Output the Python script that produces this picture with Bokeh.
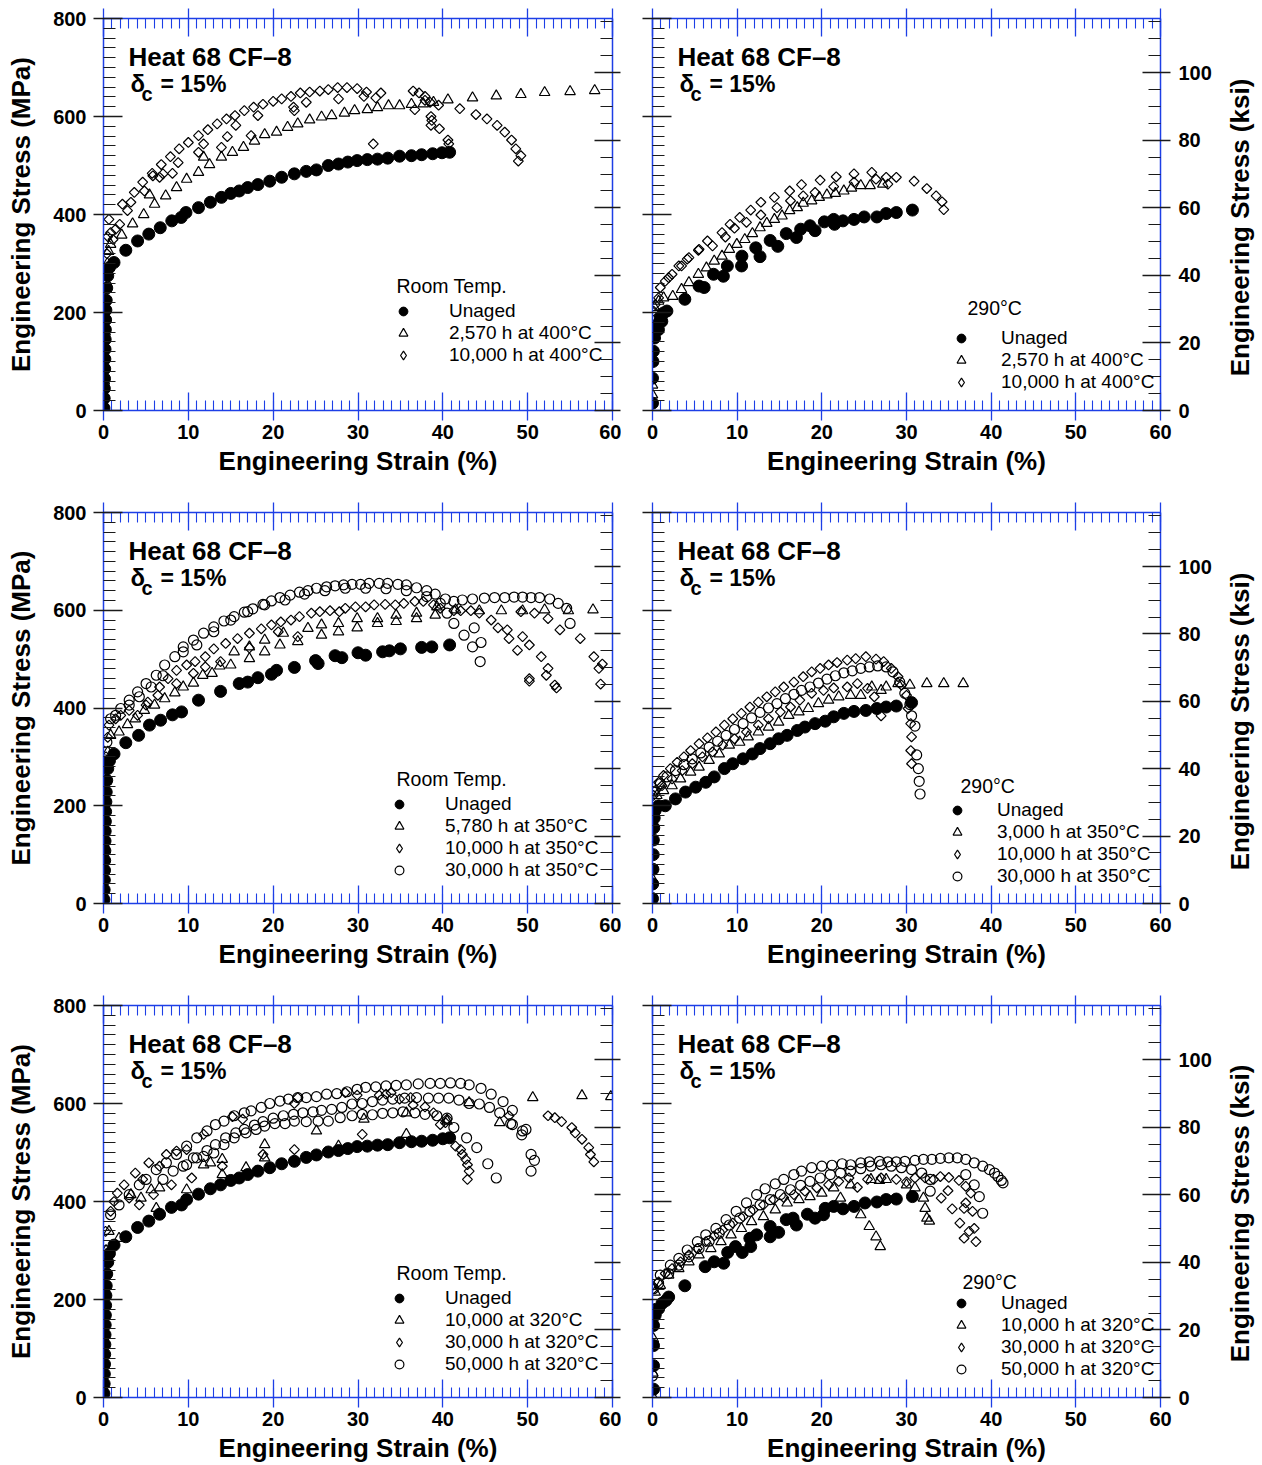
import math

from bokeh.embed import file_html
from bokeh.layouts import column, row
from bokeh.models import (CustomJSTickFormatter, FixedTicker, Label, Legend,
                          LegendItem, LinearAxis, Range1d)
from bokeh.plotting import figure
from bokeh.resources import INLINE

# ---------------------------------------------------------------------------
# Engineering stress-strain data, Heat 68 CF-8 (strain %, stress MPa)
# ---------------------------------------------------------------------------

# Room temperature tests, material aged at 400 C
rt400_unaged = [
    (0.05, 5), (0.08, 25), (0.10, 45), (0.12, 65), (0.14, 85), (0.16, 105), (0.18, 125),
    (0.20, 145), (0.22, 165), (0.25, 185), (0.28, 205), (0.32, 225), (0.38, 250), (0.50, 275),
    (0.70, 292), (1.24, 302), (2.63, 327), (4.02, 346), (5.34, 360), (6.69, 373), (8.05, 387),
    (9.16, 394), (9.72, 404), (11.2, 414), (12.6, 425), (13.9, 435), (15.0, 443), (16.0, 448),
    (17.0, 455), (18.2, 461), (19.6, 468), (21.0, 476), (22.5, 483), (23.9, 488), (25.1, 491),
    (26.5, 500), (27.7, 503), (28.8, 507), (29.9, 510), (31.1, 512), (32.3, 513), (33.5, 515),
    (34.9, 519), (36.3, 520), (37.5, 522), (38.8, 524), (39.9, 526), (40.8, 527)]
rt400_2570h = [
    (0.10, 60), (0.20, 160), (0.30, 250), (0.45, 300), (0.60, 325), (0.84, 339), (2.15, 358),
    (3.43, 381), (4.74, 400), (5.42, 440), (6.02, 421), (7.33, 438), (8.61, 455), (9.80, 472),
    (11.2, 486), (11.8, 517), (12.5, 502), (13.9, 517), (15.2, 527), (16.5, 537), (17.8, 550),
    (19.0, 563), (20.4, 568), (21.7, 578), (22.9, 585), (24.3, 593), (25.7, 599), (26.9, 602),
    (28.4, 607), (29.6, 612), (31.1, 614), (32.3, 618), (33.6, 622), (34.9, 622), (36.3, 625),
    (37.7, 626), (38.9, 629), (40.6, 634), (43.5, 638), (46.3, 642), (49.2, 645), (52.0, 649),
    (55.0, 651), (57.9, 653)]
rt400_10000h = [
    (0.0, 0), (0.1, 80), (0.2, 170), (0.3, 260), (0.4, 320), (0.5, 355), (0.64, 390),
    (0.84, 363), (1.12, 349), (1.43, 370), (1.91, 380), (2.23, 421), (2.83, 408), (3.23, 425),
    (3.63, 445), (4.62, 466), (4.82, 448), (5.74, 484), (5.82, 479), (6.61, 476), (6.81, 502),
    (7.01, 483), (7.89, 518), (8.13, 484), (8.80, 506), (8.92, 534), (10.0, 547), (11.2, 561),
    (11.2, 527), (11.8, 544), (12.3, 573), (13.4, 585), (13.9, 537), (14.6, 559), (14.5, 595),
    (15.5, 602), (15.6, 582), (16.6, 612), (17.4, 561), (17.7, 619), (18.2, 602), (18.8, 625),
    (20.0, 631), (21.0, 636), (22.1, 641), (22.4, 619), (22.5, 612), (23.2, 648), (23.9, 629),
    (24.3, 650), (25.5, 652), (26.5, 655), (27.6, 659), (27.7, 636), (28.7, 659), (29.9, 657),
    (30.7, 641), (31.0, 650), (32.1, 638), (32.7, 648), (31.8, 544), (36.5, 652), (36.7, 614),
    (37.2, 648), (37.9, 641), (37.9, 633), (38.5, 629), (38.6, 600), (38.7, 592), (38.6, 582),
    (39.6, 575), (40.6, 552), (40.7, 544), (39.5, 623), (42.0, 616), (43.9, 604), (45.2, 595),
    (46.4, 582), (47.3, 568), (48.1, 552), (48.6, 534), (49.2, 520), (48.9, 509)]

# 290 C tests, material aged at 400 C
t290_400_unaged = [
    (0.0, 15), (0.0, 66), (0.05, 100), (0.10, 121), (0.24, 148), (0.52, 175), (0.70, 165),
    (0.92, 189), (1.10, 182), (1.30, 199), (1.70, 203), (3.82, 227), (5.50, 254), (6.10, 251),
    (7.21, 278), (8.37, 274), (8.84, 295), (10.56, 315), (10.52, 295), (12.2, 332), (12.7, 314),
    (13.9, 347), (14.8, 335), (15.8, 361), (17.0, 353), (17.5, 370), (18.6, 377), (19.2, 367),
    (20.3, 385), (21.4, 390), (21.5, 380), (22.5, 387), (23.8, 390), (25.0, 395), (26.5, 395),
    (27.6, 402), (28.8, 404), (30.7, 409)]
t290_400_2570h = [
    (0.0, 32), (0.0, 52), (0.0, 100), (0.10, 150), (0.24, 210), (0.72, 223), (1.31, 230),
    (2.39, 233), (3.43, 247), (4.30, 261), (5.42, 278), (6.37, 291), (7.29, 305), (8.21, 315),
    (9.08, 329), (9.96, 339), (10.9, 349), (11.8, 361), (12.7, 373), (13.5, 382), (14.4, 390),
    (15.3, 397), (16.2, 408), (17.1, 414), (17.8, 423), (18.8, 428), (19.7, 435), (20.6, 440),
    (21.6, 443), (22.6, 448), (23.5, 454), (24.6, 459), (25.7, 459), (27.2, 462)]
t290_400_10000h = [
    (0.0, 120), (0.05, 170), (0.12, 203), (0.32, 216), (0.72, 230), (0.92, 251), (1.51, 264),
    (1.91, 271), (2.31, 278), (3.11, 295), (3.43, 295), (4.10, 309), (4.30, 312), (5.42, 327),
    (5.50, 329), (6.49, 346), (7.09, 336), (8.21, 363), (8.61, 354), (9.16, 380), (9.68, 372),
    (10.3, 394), (11.1, 384), (11.6, 409), (12.8, 425), (12.8, 399), (14.4, 435), (14.7, 414),
    (16.2, 448), (16.3, 428), (17.6, 461), (17.8, 438), (19.2, 445), (19.8, 470), (21.4, 457),
    (21.7, 477), (23.8, 483), (23.8, 466), (25.9, 486), (26.4, 472), (27.6, 476), (27.8, 462),
    (28.8, 476), (30.9, 468), (32.4, 453), (33.5, 438), (34.2, 426), (34.4, 410)]

# Room temperature tests, material aged at 350 C
rt350_unaged = [
    (0.05, 8), (0.08, 28), (0.10, 48), (0.12, 68), (0.14, 88), (0.16, 108), (0.18, 128),
    (0.20, 148), (0.22, 168), (0.25, 188), (0.28, 208), (0.32, 228), (0.38, 252), (0.50, 276),
    (0.70, 292), (1.24, 306), (2.63, 329), (4.14, 344), (5.42, 365), (6.73, 375), (8.13, 386),
    (9.20, 392), (11.2, 416), (13.8, 434), (16.0, 450), (17.0, 453), (18.2, 462), (19.8, 469),
    (20.4, 477), (22.5, 483), (25.0, 497), (25.3, 491), (27.3, 507), (28.1, 503), (30.0, 513),
    (30.9, 508), (32.9, 515), (33.7, 517), (35.0, 521), (37.5, 524), (38.7, 525), (40.8, 529)]
rt350_5780h = [
    (0.10, 120), (0.30, 250), (0.50, 310), (0.84, 344), (1.83, 351), (2.83, 366), (3.75, 378),
    (4.82, 395), (6.02, 406), (7.21, 419), (8.41, 431), (9.40, 443), (10.6, 451), (11.7, 467),
    (12.8, 471), (13.7, 486), (15.0, 488), (15.4, 515), (17.2, 501), (17.2, 525), (19.0, 515),
    (19.0, 539), (20.8, 529), (21.2, 553), (22.9, 536), (24.1, 563), (25.7, 549), (25.7, 570),
    (27.7, 556), (27.7, 573), (29.9, 564), (29.9, 583), (32.3, 573), (32.3, 583), (34.5, 577),
    (34.5, 590), (36.9, 583), (36.9, 594), (39.1, 590), (39.3, 607), (41.5, 601), (44.3, 599),
    (46.9, 599), (49.4, 599), (52.0, 601), (54.8, 599), (57.7, 601)]
rt350_10000h = [
    (0.0, 0), (0.2, 200), (0.3, 300), (0.5, 340), (0.64, 365), (1.43, 378), (2.03, 385),
    (3.03, 395), (4.02, 385), (5.02, 406), (5.22, 412), (6.41, 426), (6.61, 443), (7.61, 460),
    (8.61, 477), (8.61, 450), (9.80, 488), (10.6, 471), (10.8, 495), (12.0, 505), (12.0, 484),
    (13.0, 521), (13.8, 495), (14.4, 532), (15.8, 542), (17.2, 553), (17.2, 523), (18.6, 562),
    (19.8, 570), (20.6, 556), (20.9, 576), (22.1, 580), (22.9, 546), (23.1, 587), (24.5, 594),
    (25.5, 597), (26.7, 599), (27.8, 597), (28.5, 604), (29.7, 607), (30.9, 607), (31.9, 611),
    (33.2, 612), (34.4, 611), (35.4, 614), (36.7, 618), (37.7, 618), (38.9, 611), (39.7, 604),
    (41.3, 599), (42.1, 599), (43.3, 599), (44.3, 594), (45.7, 580), (46.5, 564), (47.6, 560),
    (47.8, 542), (48.8, 518), (49.4, 546), (50.2, 529), (50.2, 460), (50.2, 455), (51.6, 505),
    (52.4, 481), (52.2, 467), (53.2, 447), (53.4, 441), (50.8, 594), (49.2, 597), (52.4, 583),
    (53.8, 560), (56.2, 542), (57.8, 505), (58.4, 481), (58.6, 449), (58.8, 490)]
rt350_30000h = [
    (0.2, 250), (0.4, 330), (0.84, 378), (1.43, 385), (2.03, 399), (3.03, 416), (4.02, 433),
    (5.02, 450), (6.22, 467), (7.21, 488), (8.41, 505), (9.40, 525), (10.6, 539), (11.8, 553),
    (13.0, 566), (14.2, 578), (15.4, 587), (16.6, 596), (17.6, 603), (18.8, 612), (19.8, 619),
    (20.8, 626), (22.0, 631), (23.1, 637), (24.1, 640), (25.1, 645), (26.3, 648), (27.3, 650),
    (28.3, 652), (29.3, 653), (30.3, 653), (31.3, 655), (32.5, 655), (33.5, 655), (34.7, 653),
    (35.7, 652), (36.9, 646), (38.1, 640), (39.1, 633), (40.3, 623), (41.3, 618), (42.3, 621),
    (43.5, 623), (44.9, 625), (46.1, 626), (47.3, 626), (48.4, 627), (49.4, 627), (50.4, 626),
    (51.4, 626), (52.6, 623), (53.6, 614), (54.6, 604), (55.0, 573), (41.3, 573), (42.5, 549),
    (43.7, 564), (43.5, 525), (44.5, 534), (44.4, 495), (3.03, 406), (4.22, 423), (5.62, 443),
    (7.01, 466), (9.40, 515), (11.0, 529), (13.0, 556), (15.0, 580), (17.0, 597), (19.0, 611),
    (21.4, 621), (23.7, 633), (26.1, 640), (28.5, 645), (30.9, 645), (33.3, 644), (35.7, 640),
    (38.1, 628), (39.7, 614), (40.5, 594)]

# 290 C tests, material aged at 350 C
t290_350_unaged = [
    (0.0, 10), (0.02, 40), (0.05, 70), (0.08, 100), (0.10, 130), (0.15, 155), (0.20, 175),
    (0.30, 190), (0.72, 200), (1.51, 200), (2.71, 214), (3.90, 228), (5.10, 238), (6.29, 248),
    (7.29, 259), (8.49, 276), (9.48, 286), (10.7, 296), (11.8, 306), (12.7, 317), (13.9, 327),
    (14.9, 337), (15.9, 344), (17.1, 354), (18.0, 361), (19.2, 368), (20.4, 373), (21.4, 382),
    (22.6, 389), (23.8, 393), (25.2, 395), (26.5, 399), (27.6, 402), (28.8, 404), (30.6, 411)]
t290_350_3000h = [
    (0.0, 50), (0.1, 130), (0.2, 190), (0.52, 221), (1.31, 231), (2.31, 241), (3.31, 255),
    (4.50, 269), (5.50, 279), (6.69, 293), (7.89, 306), (9.08, 324), (10.3, 330), (11.3, 341),
    (12.5, 351), (13.7, 361), (14.9, 371), (16.1, 385), (17.3, 392), (18.4, 399), (19.6, 409),
    (20.8, 416), (22.0, 423), (23.4, 426), (24.6, 426), (25.9, 443), (27.0, 436), (27.6, 443),
    (29.0, 450), (30.4, 447), (32.4, 450), (34.4, 450), (36.7, 450)]
t290_350_10000h = [
    (0.0, 0), (0.05, 160), (0.12, 221), (0.72, 248), (1.31, 262), (2.11, 276), (2.91, 289),
    (3.71, 300), (4.50, 313), (5.50, 327), (6.49, 339), (7.49, 351), (8.49, 365), (9.48, 378),
    (10.5, 389), (11.5, 402), (12.5, 412), (13.5, 423), (14.5, 433), (15.5, 443), (16.7, 453),
    (17.8, 464), (18.8, 474), (19.8, 481), (20.8, 488), (21.8, 493), (23.0, 498), (24.0, 501),
    (25.2, 505), (26.4, 500), (27.3, 495), (28.2, 481), (29.0, 464), (29.4, 447), (30.0, 426),
    (30.2, 399), (30.5, 368), (30.6, 341), (30.5, 313), (30.6, 286), (0.32, 231), (1.12, 241),
    (2.31, 255), (3.51, 272), (4.70, 286), (5.90, 300), (7.09, 310), (8.29, 324), (9.68, 337),
    (11.1, 351), (12.5, 365), (13.7, 378), (15.1, 392), (16.3, 402), (17.4, 416), (18.8, 430),
    (20.2, 436), (21.4, 441), (23.0, 443), (24.2, 450), (25.4, 440), (26.2, 423), (27.0, 384)]
t290_350_30000h = [
    (0.05, 180), (0.12, 228), (0.92, 245), (1.71, 259), (2.71, 272), (3.71, 284), (4.70, 296),
    (5.70, 308), (6.69, 320), (7.69, 332), (8.69, 344), (9.68, 356), (10.7, 368), (11.7, 380),
    (12.7, 391), (13.7, 400), (14.7, 409), (15.7, 419), (16.7, 428), (17.6, 436), (18.6, 443),
    (19.6, 451), (20.6, 459), (21.6, 466), (22.6, 472), (23.6, 476), (24.6, 481), (25.6, 484),
    (26.6, 486), (27.6, 484), (28.4, 474), (29.2, 453), (29.8, 430), (30.4, 407), (30.6, 384),
    (31.0, 363), (31.2, 304), (31.4, 276), (31.5, 250), (31.6, 224)]

# Room temperature tests, material aged at 320 C
rt320_unaged = [
    (0.05, 8), (0.08, 28), (0.10, 48), (0.12, 68), (0.14, 88), (0.16, 108), (0.18, 128),
    (0.20, 148), (0.22, 168), (0.25, 188), (0.28, 208), (0.32, 228), (0.38, 252), (0.50, 276),
    (0.70, 294), (1.24, 311), (2.63, 328), (4.02, 347), (5.34, 360), (6.61, 374), (8.01, 388),
    (9.20, 393), (9.80, 404), (11.2, 415), (12.6, 426), (13.8, 434), (15.0, 443), (16.0, 448),
    (17.0, 455), (18.2, 462), (19.6, 469), (21.0, 477), (22.5, 482), (23.9, 490), (25.1, 495),
    (26.5, 501), (27.7, 504), (28.8, 508), (29.9, 512), (31.1, 513), (32.3, 515), (33.5, 516),
    (34.9, 520), (36.3, 522), (37.5, 523), (38.8, 525), (40.0, 528), (40.8, 530)]
rt320_10000h = [
    (0.0, 0), (0.3, 300), (0.64, 339), (1.83, 325), (3.23, 414), (4.42, 407), (5.62, 424),
    (6.22, 386), (6.61, 428), (9.80, 424), (11.8, 475), (12.6, 479), (14.0, 486), (14.0, 455),
    (16.8, 469), (19.0, 516), (19.0, 489), (25.1, 544), (27.7, 513), (30.7, 568), (35.7, 537),
    (35.7, 581), (40.5, 564), (43.1, 602), (46.7, 561), (50.6, 612), (56.4, 616), (59.8, 614)]
rt320_30000h = [
    (0.1, 200), (0.24, 339), (0.84, 380), (1.24, 400), (1.63, 417), (2.43, 434), (3.03, 407),
    (3.75, 458), (4.22, 393), (4.62, 445), (5.34, 479), (5.90, 414), (6.61, 472), (7.41, 496),
    (8.01, 434), (8.61, 503), (9.80, 506), (10.4, 448), (11.8, 537), (14.0, 472), (15.2, 573),
    (16.4, 568), (18.8, 496), (22.5, 506), (22.5, 600), (22.9, 612), (28.5, 622), (29.9, 617),
    (30.5, 537), (32.5, 617), (33.3, 619), (33.9, 622), (34.9, 609), (36.2, 612), (36.5, 597),
    (37.9, 593), (38.9, 581), (39.7, 557), (40.3, 561), (40.5, 568), (41.5, 513), (42.1, 506),
    (42.3, 496), (42.7, 486), (42.9, 475), (43.1, 462), (42.9, 445), (47.8, 575), (52.4, 575),
    (53.2, 571), (54.0, 563), (55.2, 551), (55.6, 540), (56.4, 527), (57.2, 510), (57.4, 496),
    (57.8, 481)]
rt320_50000h = [
    (0.3, 300), (0.84, 373), (1.83, 393), (3.03, 414), (4.22, 434), (5.02, 445), (6.22, 465),
    (7.41, 479), (8.61, 496), (9.80, 513), (11.0, 530), (12.2, 544), (13.2, 557), (14.2, 564),
    (15.4, 575), (16.6, 581), (17.4, 585), (18.6, 592), (19.6, 600), (20.8, 605), (21.8, 609),
    (22.9, 612), (23.9, 612), (25.1, 614), (26.3, 619), (27.5, 620), (28.7, 624), (29.9, 629),
    (30.9, 633), (32.1, 634), (33.3, 636), (34.5, 637), (35.7, 638), (37.1, 640), (38.5, 641),
    (39.7, 641), (40.9, 642), (42.1, 641), (43.1, 638), (44.5, 631), (45.7, 619), (47.1, 604),
    (48.2, 586), (48.0, 559), (49.3, 536), (49.8, 547), (50.4, 496), (50.8, 484), (50.4, 462),
    (9.80, 475), (11.0, 489), (12.2, 504), (13.2, 516), (14.4, 530), (15.6, 540), (16.6, 547),
    (17.8, 556), (18.8, 563), (20.0, 570), (21.2, 575), (22.4, 578), (23.5, 581), (24.7, 583),
    (25.7, 586), (26.9, 588), (28.1, 592), (29.3, 599), (30.5, 600), (31.7, 604), (32.9, 607),
    (34.1, 609), (35.5, 611), (36.9, 612), (38.3, 611), (39.5, 611), (40.7, 611), (41.9, 607),
    (43.1, 600), (44.3, 599), (45.5, 592), (46.7, 581), (48.2, 557), (49.4, 544), (7.01, 445),
    (8.21, 462), (9.40, 472), (10.6, 489), (11.8, 492), (13.0, 499), (14.2, 516), (15.4, 530),
    (16.8, 540), (18.0, 547), (19.0, 554), (20.2, 559), (21.4, 559), (22.5, 564), (23.9, 563),
    (25.3, 564), (26.5, 564), (27.9, 571), (29.3, 575), (30.5, 578), (31.7, 577), (32.9, 580),
    (34.1, 581), (35.3, 583), (36.7, 581), (37.9, 578), (39.3, 575), (40.5, 570), (41.3, 551),
    (42.8, 530), (44.0, 510), (45.3, 477), (46.3, 448)]

# 290 C tests, material aged at 320 C
t290_320_unaged = [
    (0.12, 17), (0.12, 65), (0.12, 106), (0.12, 147), (0.32, 168), (0.72, 181), (1.12, 192),
    (1.59, 198), (1.91, 205), (3.82, 228), (6.22, 267), (7.29, 277), (8.41, 274), (8.88, 296),
    (9.80, 308), (10.6, 296), (11.5, 325), (11.6, 308), (12.3, 332), (13.9, 349), (13.9, 328),
    (14.9, 337), (15.8, 363), (16.6, 366), (17.0, 352), (18.3, 374), (19.2, 366), (20.2, 373),
    (20.4, 386), (21.4, 390), (22.5, 385), (23.8, 390), (25.1, 397), (26.5, 399), (27.6, 404),
    (28.8, 405), (30.7, 410)]
t290_320_10000h = [
    (0.0, 3), (0.05, 50), (0.10, 120), (0.20, 180), (0.32, 215), (0.92, 229), (1.91, 250),
    (3.11, 263), (4.30, 277), (5.50, 291), (6.89, 304), (8.09, 318), (9.28, 332), (10.5, 345),
    (11.7, 359), (13.1, 369), (14.5, 383), (15.9, 397), (17.3, 404), (18.6, 410), (20.0, 417),
    (21.4, 428), (22.2, 407), (23.4, 434), (24.6, 373), (25.6, 349), (25.8, 445), (26.4, 328),
    (26.8, 443), (26.9, 308), (27.6, 445), (30.0, 434), (31.0, 428), (32.0, 407), (32.2, 386),
    (32.4, 366), (32.7, 360)]
t290_320_30000h = [
    (0.05, 150), (0.12, 222), (0.72, 236), (1.51, 253), (2.31, 263), (3.31, 277), (4.30, 291),
    (5.30, 304), (6.29, 318), (7.29, 330), (8.29, 342), (9.48, 356), (10.7, 369), (11.9, 383),
    (13.1, 393), (14.3, 404), (15.5, 408), (16.7, 414), (18.0, 421), (19.4, 428), (20.8, 434),
    (22.0, 441), (23.2, 448), (24.2, 429), (25.4, 445), (27.0, 448), (28.8, 445), (30.0, 440),
    (31.0, 448), (32.2, 448), (33.2, 445), (34.0, 451), (35.0, 449), (36.2, 443), (37.0, 431),
    (37.6, 417), (37.0, 397), (37.8, 380), (36.8, 386), (38.0, 345), (37.4, 339), (36.8, 325),
    (38.2, 318), (34.1, 407), (34.9, 422), (35.4, 385), (36.3, 356)]
t290_320_50000h = [
    (0.0, 44), (0.05, 150), (0.12, 222), (0.92, 250), (2.11, 270), (3.11, 284), (4.10, 301),
    (5.30, 318), (6.29, 332), (7.49, 345), (8.69, 363), (9.88, 380), (11.1, 397), (12.3, 414),
    (13.3, 426), (14.5, 436), (15.5, 445), (16.7, 455), (17.6, 462), (18.8, 469), (20.0, 472),
    (21.2, 474), (22.4, 477), (23.4, 475), (24.6, 479), (25.6, 481), (26.8, 482), (27.8, 481),
    (28.8, 481), (29.8, 482), (31.0, 484), (32.0, 486), (33.0, 486), (34.0, 488), (35.0, 489),
    (36.0, 489), (37.0, 486), (38.0, 479), (39.0, 472), (39.8, 465), (40.4, 458), (40.8, 451),
    (41.2, 443), (41.4, 438), (0.72, 233), (1.91, 253), (3.11, 270), (4.30, 287), (5.50, 304),
    (6.69, 319), (7.89, 335), (9.08, 352), (10.3, 366), (11.5, 380), (12.7, 393), (13.9, 404),
    (15.1, 414), (16.3, 424), (17.5, 433), (18.6, 441), (19.8, 448), (21.0, 455), (22.2, 458),
    (23.4, 462), (24.6, 467), (25.8, 472), (27.0, 475), (28.2, 472), (29.4, 469), (30.6, 465),
    (31.8, 458), (32.8, 445), (32.8, 421), (37.0, 455), (38.0, 434), (38.6, 410), (39.0, 376)]

# Legend texts
rt400_labels = ["Unaged", "2,570 h at 400°C", "10,000 h at 400°C"]
rt350_labels = ["Unaged", "5,780 h at 350°C", "10,000 h at 350°C", "30,000 h at 350°C"]
t290_350_labels = ["Unaged", "3,000 h at 350°C", "10,000 h at 350°C", "30,000 h at 350°C"]
rt320_labels = ["Unaged", "10,000 at 320°C", "30,000 h at 320°C", "50,000 h at 320°C"]
t290_320_labels = ["Unaged", "10,000 h at 320°C", "30,000 h at 320°C", "50,000 h at 320°C"]

# Axis ticks
strain_major = [0, 10, 20, 30, 40, 50, 60]
strain_minor = list(range(0, 61))
mpa_major = [0, 200, 400, 600, 800]
mpa_minor = list(range(0, 801, 20))
ksi_major = [0, 20, 40, 60, 80, 100]
ksi_minor = list(range(0, 116, 5))

MPA_PER_KSI = 6.894757
FONT = "Liberation Sans"
BLUE = "#1d3fe6"
INK = "#1a1a1a"

MARKER_STYLES = {
    "filled": dict(marker="circle", size=12, fill_color="black", line_color="black", line_width=1),
    "triangle": dict(marker="triangle", size=10.5, fill_color=None, line_color="black", line_width=1.2),
    "diamond": dict(marker="square", angle=math.pi / 4, size=7, fill_color=None,
                    line_color="black", line_width=1.2),
    "circle": dict(marker="circle", size=10, fill_color=None, line_color="black", line_width=1.2),
}
# legend glyphs are drawn unrotated, so the diamond swatch gets its own marker
DIAMOND_SWATCH = dict(marker="diamond", size=10, fill_color=None, line_color="black", line_width=1.2)


def style_axis(ax, line_color, tick_color, major_in, major_out, minor_in, show_labels, standoff):
    ax.axis_line_color = line_color
    ax.axis_line_width = 1.5
    ax.major_tick_line_color = tick_color
    ax.major_tick_line_width = 1.3
    ax.major_tick_in = major_in
    ax.major_tick_out = major_out
    ax.minor_tick_line_color = tick_color
    ax.minor_tick_line_width = 1.1
    ax.minor_tick_in = minor_in
    ax.minor_tick_out = 0
    ax.major_label_text_font = FONT
    ax.major_label_text_font_style = "bold"
    ax.major_label_text_font_size = "20px"
    ax.major_label_text_color = "black"
    ax.major_label_standoff = standoff
    if not show_labels:
        ax.formatter = CustomJSTickFormatter(code="return ''")
        ax.major_label_text_font_size = "0px"
        ax.major_label_standoff = 0
    ax.axis_label_text_font = FONT
    ax.axis_label_text_font_style = "bold"
    ax.axis_label_text_font_size = "26px"
    ax.axis_label_text_color = "black"


def add_text(p, x, y, text, size, bold=True, baseline="alphabetic", align="left", angle=0.0,
             units="screen"):
    p.add_layout(Label(x=x, y=y, x_units=units, y_units=units, text=text,
                       text_font=FONT, text_font_size=size,
                       text_font_style="bold" if bold else "normal",
                       text_baseline=baseline, text_align=align, text_color="black",
                       angle=angle))


def make_panel(series, labels, legend_title, left_col, frame_h, top, bottom,
               legend_loc, title_loc, standoff):
    p = figure(frame_width=509 if left_col else 508, frame_height=frame_h,
               x_range=Range1d(0, 60), y_range=Range1d(0, 800),
               output_backend="svg", toolbar_location=None,
               min_border_left=103 if left_col else 31,
               min_border_right=9 if left_col else 56,
               min_border_top=top, min_border_bottom=bottom)
    p.extra_y_ranges = {"ksi": Range1d(0, 800 / MPA_PER_KSI)}
    p.outline_line_color = None
    p.xgrid.visible = False
    p.ygrid.visible = False
    p.background_fill_color = "white"
    p.border_fill_color = "white"

    # strain axes (bottom with labels, top plain)
    xb = p.xaxis[0]
    xb.ticker = FixedTicker(ticks=strain_major, minor_ticks=strain_minor)
    style_axis(xb, BLUE, BLUE, 18, 10, 10, True, 4)
    xb.axis_label = "Engineering Strain (%)"
    xb.axis_label_standoff = 4

    xt = LinearAxis(ticker=FixedTicker(ticks=strain_major, minor_ticks=strain_minor))
    style_axis(xt, BLUE, BLUE, 18, 10, 10, False, 0)
    p.add_layout(xt, "above")

    # stress axes: MPa on the left, ksi on the right
    yl = p.yaxis[0]
    yl.ticker = FixedTicker(ticks=mpa_major, minor_ticks=mpa_minor)
    style_axis(yl, BLUE, INK, 19, 10, 12, left_col, 7)
    if left_col:
        yl.axis_label = "Engineering Stress (MPa)"
        yl.axis_label_standoff = 14

    yr = LinearAxis(y_range_name="ksi", ticker=FixedTicker(ticks=ksi_major, minor_ticks=ksi_minor))
    style_axis(yr, BLUE, INK, 18, 8 if left_col else 10, 12, not left_col, 8)
    p.add_layout(yr, "right")

    items = []
    for (pts, kind), lab in zip(series, labels):
        strain = [s for s, _ in pts]
        stress = [v for _, v in pts]
        r = p.scatter(strain, stress, **MARKER_STYLES[kind])
        if kind == "diamond":
            # off-range swatch renderer that only feeds the legend
            r = p.scatter(x=[-10], y=[-100], **DIAMOND_SWATCH)
        items.append(LegendItem(label=lab, renderers=[r]))

    legend = Legend(items=items, location=legend_loc, orientation="vertical",
                    padding=0, margin=0, spacing=0,
                    glyph_width=24, glyph_height=22, label_standoff=standoff, label_height=22,
                    label_text_font=FONT, label_text_font_size="19px", label_text_color="black",
                    border_line_color=None, background_fill_alpha=0)
    p.add_layout(legend)

    add_text(p, title_loc[0], title_loc[1], legend_title, "19.5px", bold=False, baseline="middle")

    # heat / ferrite annotation
    add_text(p, 25, frame_h - 38, "Heat 68 CF\u20138", "26px")
    add_text(p, 27, frame_h - 65, "\u03b4", "24px")
    add_text(p, 38, frame_h - 75, "c", "20px")
    add_text(p, 57, frame_h - 65, "= 15%", "23px")
    return p


def ksi_title(height, center_from_top):
    # narrow strip carrying the right-hand stress axis title; its ranges are in pixels
    t = figure(frame_width=46, frame_height=height, title=None,
               x_range=Range1d(0, 46), y_range=Range1d(0, height),
               output_backend="svg", toolbar_location=None,
               x_axis_location=None, y_axis_location=None,
               min_border_left=0, min_border_right=0, min_border_top=0, min_border_bottom=0)
    t.outline_line_color = None
    t.xgrid.visible = False
    t.ygrid.visible = False
    add_text(t, 23, height - center_from_top, "Engineering Stress (ksi)", "26px",
             baseline="middle", align="center", angle=math.pi / 2, units="data")
    return t


p1 = make_panel([(rt400_unaged, "filled"), (rt400_2570h, "triangle"), (rt400_10000h, "diamond")],
                rt400_labels, "Room Temp.", True, 392, 18, 83, (288, 44), (293, 125), 34)
p2 = make_panel([(t290_400_unaged, "filled"), (t290_400_2570h, "triangle"), (t290_400_10000h, "diamond")],
                rt400_labels, "290°C", False, 392, 18, 83, (297, 17), (315, 103), 28)
p3 = make_panel([(rt350_unaged, "filled"), (rt350_5780h, "triangle"), (rt350_10000h, "diamond"),
                 (rt350_30000h, "circle")],
                rt350_labels, "Room Temp.", True, 391, 19, 83, (284, 22), (293, 125), 34)
p4 = make_panel([(t290_350_unaged, "filled"), (t290_350_3000h, "triangle"), (t290_350_10000h, "diamond"),
                 (t290_350_30000h, "circle")],
                t290_350_labels, "290°C", False, 391, 19, 83, (293, 16), (308, 118), 28)
p5 = make_panel([(rt320_unaged, "filled"), (rt320_10000h, "triangle"), (rt320_30000h, "diamond"),
                 (rt320_50000h, "circle")],
                rt320_labels, "Room Temp.", True, 392, 19, 66, (284, 22), (293, 125), 34)
p6 = make_panel([(t290_320_unaged, "filled"), (t290_320_10000h, "triangle"), (t290_320_30000h, "diamond"),
                 (t290_320_50000h, "circle")],
                t290_320_labels, "290°C", False, 392, 19, 66, (297, 17), (310, 116), 28)

layout = column(
    row(p1, p2, ksi_title(493, 209)),
    row(p3, p4, ksi_title(493, 209)),
    row(p5, p6, ksi_title(477, 208)),
)

with open("out.html", "w") as f:
    f.write(file_html(layout, INLINE, title="Heat 68 CF-8 tensile curves"))
